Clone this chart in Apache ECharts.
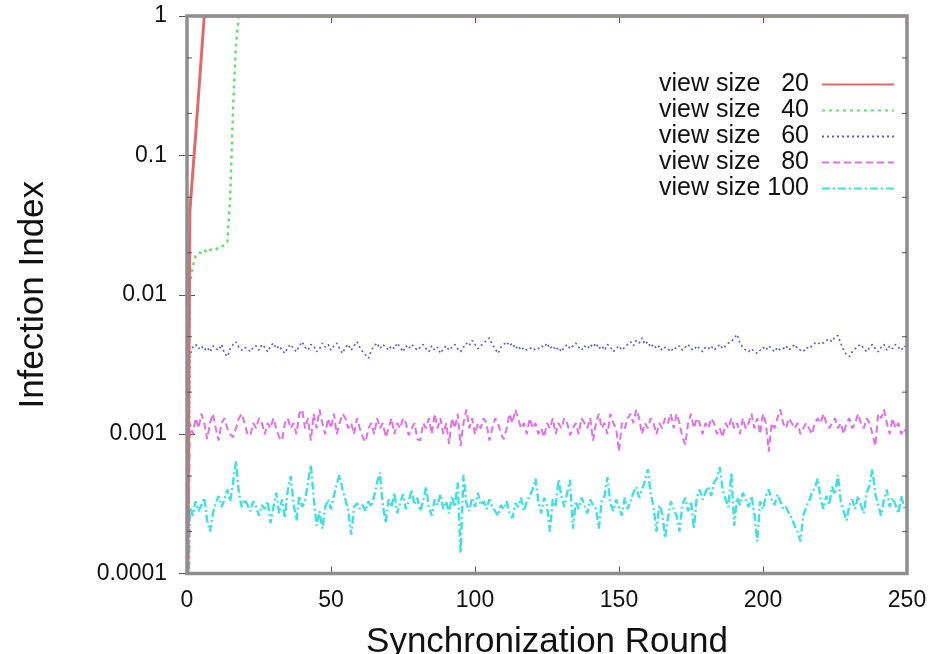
<!DOCTYPE html>
<html><head><meta charset="utf-8">
<script src="https://cdn.jsdelivr.net/npm/echarts@6/dist/echarts.min.js"></script>
<style>html,body{margin:0;padding:0;background:#fff}#c{width:941px;height:654px}</style>
</head><body><div id="c"></div>
<script>
// ---- data (rounds are the array index, 0..250) ----
const xTicks = [0, 50, 100, 150, 200, 250];
const yTickValues = [0.0001, 0.001, 0.01, 0.1, 1];
const yTickLabels = ['0.0001', '0.001', '0.01', '0.1', '1'];
const yMinorTicks = [0.0002, 0.0005, 0.002, 0.005, 0.02, 0.05, 0.2, 0.5];
const seriesNames = ['view size   20', 'view size   40', 'view size   60', 'view size   80', 'view size 100'];

// view size 20 and 40: [round, value] break points (flat at 1 afterwards)
const view20 = [[0, 0.00001], [1, 0.04], [2, 0.075], [3, 0.14], [4, 0.27], [5, 0.52], [6, 1], [250, 1]];
const view40 = [[0, 0.00001], [1, 0.012], [2, 0.016], [3, 0.019], [4, 0.020], [5, 0.020], [6, 0.021], [7, 0.020],
  [8, 0.021], [9, 0.021], [10, 0.021], [11, 0.022], [12, 0.022], [13, 0.023], [14, 0.024], [15, 0.05],
  [16, 0.22], [17, 0.62], [18, 1], [250, 1]];

const view60 = [
  0.00001, 0.0036, 0.0042, 0.0044, 0.0041, 0.0043, 0.0040, 0.0042, 0.0039, 0.0043,
  0.0041, 0.0040, 0.0044, 0.0038, 0.0036, 0.0041, 0.0044, 0.0046, 0.0042, 0.0040,
  0.0042, 0.0041, 0.0039, 0.0042, 0.0043, 0.0040, 0.0044, 0.0042, 0.0039, 0.0043,
  0.0045, 0.0041, 0.0043, 0.0040, 0.0038, 0.0042, 0.0044, 0.0041, 0.0039, 0.0043,
  0.0046, 0.0042, 0.0040, 0.0044, 0.0043, 0.0039, 0.0041, 0.0045, 0.0042, 0.0044,
  0.0040, 0.0043, 0.0045, 0.0041, 0.0038, 0.0042, 0.0044, 0.0040, 0.0043, 0.0046,
  0.0042, 0.0039, 0.0037, 0.0035, 0.0040, 0.0043, 0.0045, 0.0041, 0.0044, 0.0042,
  0.0040, 0.0043, 0.0041, 0.0045, 0.0042, 0.0039, 0.0043, 0.0041, 0.0044, 0.0042,
  0.0040, 0.0042, 0.0044, 0.0041, 0.0039, 0.0043, 0.0040, 0.0042, 0.0038, 0.0041,
  0.0043, 0.0040, 0.0042, 0.0044, 0.0041, 0.0039, 0.0042, 0.0045, 0.0043, 0.0047,
  0.0044, 0.0041, 0.0043, 0.0045, 0.0047, 0.0049, 0.0044, 0.0041, 0.0038, 0.0042,
  0.0044, 0.0046, 0.0043, 0.0045, 0.0041, 0.0043, 0.0040, 0.0042, 0.0040, 0.0041,
  0.0042, 0.0040, 0.0041, 0.0043, 0.0042, 0.0045, 0.0041, 0.0043, 0.0040, 0.0042,
  0.0039, 0.0042, 0.0044, 0.0041, 0.0043, 0.0045, 0.0042, 0.0040, 0.0043, 0.0041,
  0.0044, 0.0042, 0.0045, 0.0041, 0.0043, 0.0040, 0.0044, 0.0042, 0.0039, 0.0041,
  0.0043, 0.0040, 0.0042, 0.0044, 0.0046, 0.0043, 0.0047, 0.0045, 0.0049, 0.0044,
  0.0046, 0.0042, 0.0044, 0.0041, 0.0043, 0.0040, 0.0042, 0.0041, 0.0039, 0.0042,
  0.0041, 0.0043, 0.0040, 0.0042, 0.0044, 0.0041, 0.0040, 0.0043, 0.0041, 0.0039,
  0.0042, 0.0041, 0.0043, 0.0040, 0.0042, 0.0044, 0.0041, 0.0043, 0.0045, 0.0046,
  0.0049, 0.0052, 0.0045, 0.0042, 0.0040, 0.0039, 0.0041, 0.0039, 0.0038, 0.0040,
  0.0042, 0.0040, 0.0043, 0.0041, 0.0039, 0.0042, 0.0040, 0.0041, 0.0043, 0.0040,
  0.0042, 0.0044, 0.0041, 0.0040, 0.0039, 0.0042, 0.0041, 0.0043, 0.0045, 0.0044,
  0.0046, 0.0045, 0.0047, 0.0048, 0.0046, 0.0050, 0.0051, 0.0045, 0.0040, 0.0037,
  0.0036, 0.0039, 0.0041, 0.0043, 0.0044, 0.0041, 0.0039, 0.0042, 0.0044, 0.0041,
  0.0039, 0.0042, 0.0044, 0.0040, 0.0043, 0.0041, 0.0044, 0.0042, 0.0040, 0.0043,
  0.0042
];

const view80 = [
  0.00001, 0.0012, 0.0010, 0.0013, 0.0011, 0.0014, 0.0012, 0.00092, 0.0012, 0.0014,
  0.0011, 0.00090, 0.0012, 0.0013, 0.0011, 0.0010, 0.00095, 0.0011, 0.0013, 0.0014,
  0.0012, 0.0010, 0.00098, 0.0012, 0.0011, 0.0013, 0.0012, 0.0010, 0.0012, 0.0011,
  0.0013, 0.0011, 0.00095, 0.00090, 0.0012, 0.0013, 0.0011, 0.0012, 0.0010, 0.0014,
  0.0015, 0.0011, 0.0013, 0.00090, 0.0014, 0.0011, 0.0015, 0.0012, 0.0010, 0.0013,
  0.0011, 0.0014, 0.0010, 0.0012, 0.0014, 0.0013, 0.0011, 0.0012, 0.0010, 0.0013,
  0.0011, 0.00095, 0.00088, 0.0011, 0.0012, 0.0010, 0.0013, 0.0011, 0.0012, 0.00095,
  0.0011, 0.0013, 0.0010, 0.0012, 0.0011, 0.0013, 0.0012, 0.00098, 0.0011, 0.0012,
  0.00092, 0.00090, 0.0012, 0.0011, 0.0013, 0.0010, 0.0014, 0.0011, 0.0013, 0.0010,
  0.0012, 0.00085, 0.0013, 0.0011, 0.0014, 0.00082, 0.0012, 0.0015, 0.0011, 0.0013,
  0.0010, 0.0012, 0.0011, 0.0013, 0.0012, 0.00090, 0.0011, 0.0013, 0.0012, 0.0010,
  0.00092, 0.0011, 0.0014, 0.0012, 0.0015, 0.0013, 0.0011, 0.0012, 0.0010, 0.0013,
  0.0011, 0.0012, 0.0010, 0.0011, 0.00095, 0.0012, 0.0011, 0.0013, 0.0010, 0.0012,
  0.0011, 0.0013, 0.0012, 0.00098, 0.0011, 0.0012, 0.0010, 0.0013, 0.0012, 0.0011,
  0.0013, 0.00090, 0.0012, 0.0014, 0.0011, 0.0012, 0.0010, 0.0014, 0.0012, 0.0011,
  0.00075, 0.0012, 0.0011, 0.0013, 0.0014, 0.0012, 0.0015, 0.0013, 0.0010, 0.0012,
  0.0011, 0.0013, 0.0012, 0.0010, 0.0012, 0.0011, 0.0013, 0.0012, 0.0014, 0.0011,
  0.0014, 0.0012, 0.00095, 0.00084, 0.0012, 0.0014, 0.0011, 0.0013, 0.0012, 0.0010,
  0.0012, 0.0011, 0.0013, 0.0012, 0.0010, 0.0011, 0.00095, 0.0012, 0.0011, 0.0013,
  0.0011, 0.0012, 0.0010, 0.0013, 0.0011, 0.0012, 0.0014, 0.0011, 0.0013, 0.0010,
  0.0014, 0.0012, 0.00075, 0.0012, 0.0011, 0.0013, 0.0015, 0.0012, 0.0011, 0.0013,
  0.0012, 0.0011, 0.0012, 0.0010, 0.0011, 0.0012, 0.0011, 0.0010, 0.0012, 0.0013,
  0.0012, 0.0014, 0.0012, 0.0011, 0.0012, 0.0013, 0.0011, 0.0012, 0.0010, 0.0012,
  0.0013, 0.0011, 0.0012, 0.0014, 0.0012, 0.0011, 0.0013, 0.0012, 0.0010, 0.00082,
  0.0014, 0.0013, 0.0015, 0.0012, 0.0010, 0.0013, 0.0011, 0.0012, 0.0010, 0.0011,
  0.0010
];

const view100 = [
  0.00001, 0.00030, 0.00026, 0.00033, 0.00028, 0.00031, 0.00035, 0.00024, 0.00020, 0.00027,
  0.00032, 0.00036, 0.00030, 0.00034, 0.00040, 0.00033, 0.00045, 0.00064, 0.00038, 0.00030,
  0.00034, 0.00031, 0.00028, 0.00033, 0.00030, 0.00026, 0.00031, 0.00029, 0.00033, 0.00023,
  0.00030, 0.00038, 0.00027, 0.00034, 0.00025, 0.00040, 0.00050, 0.00032, 0.00024, 0.00036,
  0.00030, 0.00033, 0.00045, 0.00060, 0.00035, 0.00022, 0.00028, 0.00021, 0.00030, 0.00034,
  0.00029, 0.00036, 0.00044, 0.00051, 0.00040, 0.00034, 0.00028, 0.00019, 0.00030, 0.00032,
  0.00029, 0.00031, 0.00028, 0.00033, 0.00030, 0.00036, 0.00045, 0.00053, 0.00031, 0.00023,
  0.00034, 0.00030, 0.00038, 0.00027, 0.00032, 0.00037, 0.00029, 0.00033, 0.00040, 0.00031,
  0.00035, 0.00028, 0.00033, 0.00042, 0.00030, 0.00026, 0.00034, 0.00031, 0.00037, 0.00029,
  0.00033, 0.00027, 0.00036, 0.00030, 0.00045, 0.00014, 0.00051, 0.00032, 0.00028, 0.00035,
  0.00030, 0.00038, 0.00031, 0.00033, 0.00029, 0.00034, 0.00030, 0.00028, 0.00026, 0.00031,
  0.00029, 0.00033, 0.00027, 0.00025, 0.00032, 0.00030, 0.00035, 0.00028, 0.00033, 0.00036,
  0.00040, 0.00048, 0.00033, 0.00027, 0.00035, 0.00031, 0.00020, 0.00034, 0.00030, 0.00047,
  0.00036, 0.00030, 0.00038, 0.00047, 0.00021, 0.00033, 0.00029, 0.00035, 0.00031, 0.00027,
  0.00034, 0.00031, 0.00029, 0.00021, 0.00033, 0.00036, 0.00049, 0.00032, 0.00028, 0.00034,
  0.00030, 0.00026, 0.00035, 0.00029, 0.00033, 0.00038, 0.00042, 0.00035, 0.00040, 0.00046,
  0.00056, 0.00038, 0.00030, 0.00020, 0.00031, 0.00027, 0.00018, 0.00025, 0.00033, 0.00029,
  0.00026, 0.00020, 0.00031, 0.00035, 0.00028, 0.00033, 0.00021, 0.00035, 0.00040, 0.00034,
  0.00038, 0.00042, 0.00036, 0.00045, 0.00048, 0.00058, 0.00040, 0.00034, 0.00030, 0.00053,
  0.00022, 0.00035, 0.00031, 0.00038, 0.00034, 0.00030, 0.00036, 0.00027, 0.00017, 0.00033,
  0.00029, 0.00036, 0.00040, 0.00034, 0.00031, 0.00037, 0.00033, 0.00029, 0.00030, 0.00027,
  0.00025, 0.00022, 0.00020, 0.00017, 0.00026, 0.00030, 0.00033, 0.00038, 0.00041, 0.00048,
  0.00034, 0.00029, 0.00036, 0.00031, 0.00042, 0.00037, 0.00051, 0.00033, 0.00028, 0.00024,
  0.00031, 0.00034, 0.00029, 0.00036, 0.00031, 0.00027, 0.00038, 0.00043, 0.00056, 0.00037,
  0.00031, 0.00026, 0.00034, 0.00040, 0.00030, 0.00035, 0.00031, 0.00027, 0.00036, 0.00030,
  0.00029
];

// ---- chart ----
const FONT = '"Liberation Sans", Arial, Helvetica, sans-serif';
const colors = ['#e06a6a', '#6fdc6f', '#5a5ad8', '#e070e6', '#3fe0e0'];
const indexed = arr => arr.map((v, i) => [i, v]);

const chart = echarts.init(document.getElementById('c'), null, { renderer: 'canvas' });

const lineSeries = (name, data, color, width, type, z) => ({
  name, type: 'line', data, showSymbol: false, symbol: 'none', clip: true, z,
  xAxisIndex: 0, yAxisIndex: 0, animation: false,
  lineStyle: { color, width, type }, itemStyle: { color }
});

chart.setOption({
  animation: false,
  backgroundColor: '#ffffff',
  textStyle: { fontFamily: FONT },
  grid: { left: 187, right: 34, top: 16, bottom: 80.5, outerBoundsMode: 'none', containLabel: false, show: true, borderColor: '#8e8e8e', borderWidth: 3.5, backgroundColor: 'transparent', z: 10 },
  legend: {
    orient: 'vertical', right: 41, top: 67, align: 'right',
    itemWidth: 72, itemHeight: 12, itemGap: 1,
    itemStyle: { opacity: 0 },
    textStyle: { fontFamily: FONT, fontSize: 25, color: '#111', lineHeight: 25, padding: [0, 8, 0, 0] },
    data: seriesNames
  },
  xAxis: [
    {
      type: 'value', min: 0, max: 250, interval: 50,
      name: 'Synchronization Round', nameLocation: 'middle', nameGap: 51,
      nameTextStyle: { fontFamily: FONT, fontSize: 35, color: '#111', verticalAlign: 'top' },
      axisLine: { show: false },
      axisTick: { show: true, inside: true, length: 7, lineStyle: { color: '#555', width: 1 } },
      axisLabel: { fontFamily: FONT, fontSize: 23, color: '#111', margin: 16, customValues: xTicks },
      splitLine: { show: false }
    },
    {
      type: 'value', min: 0, max: 250, interval: 50, position: 'top',
      axisLine: { show: false },
      axisTick: { show: true, inside: true, length: 7, lineStyle: { color: '#555', width: 1 } },
      axisLabel: { show: false }, splitLine: { show: false }
    }
  ],
  yAxis: [
    {
      type: 'log', logBase: 10, min: 0.0001, max: 1,
      name: 'Infection Index', nameLocation: 'middle', nameGap: 136,
      nameTextStyle: { fontFamily: FONT, fontSize: 35, color: '#111' },
      axisLine: { show: false },
      axisTick: { show: true, inside: true, length: 8, lineStyle: { color: '#555', width: 1 } },
      axisLabel: {
        fontFamily: FONT, fontSize: 23, color: '#111', margin: 20,
        formatter: v => { const i = yTickValues.findIndex(t => Math.abs(Math.log10(t) - Math.log10(v)) < 1e-6); return i >= 0 ? yTickLabels[i] : ''; }
      },
      splitLine: { show: false }
    },
    {
      type: 'log', logBase: 10, min: 0.0001, max: 1, position: 'right',
      axisLine: { show: false },
      axisTick: { show: true, inside: true, length: 8, lineStyle: { color: '#555', width: 1 } },
      axisLabel: { show: false }, splitLine: { show: false }
    }
  ],
  series: [
    lineSeries(seriesNames[0], view20, colors[0], 3, 'solid', 6),
    lineSeries(seriesNames[1], view40, colors[1], 2.5, [3, 4], 5),
    lineSeries(seriesNames[2], indexed(view60), colors[2], 1.6, [2, 3], 4),
    lineSeries(seriesNames[3], indexed(view80), colors[3], 2, [7, 4], 3),
    lineSeries(seriesNames[4], indexed(view100), colors[4], 2.4, [8, 3, 2, 3], 2),
    {
      type: 'custom', name: 'minorTicks', silent: true, animation: false, z: 11,
      xAxisIndex: 0, yAxisIndex: 0,
      data: yMinorTicks.map(v => [0, v]),
      renderItem: (params, api) => {
        const v = api.value(1);
        const pl = api.coord([0, v]);
        const pr = api.coord([250, v]);
        const st = { stroke: '#555', lineWidth: 1 };
        return { type: 'group', children: [
          { type: 'line', shape: { x1: pl[0], y1: pl[1], x2: pl[0] + 5, y2: pl[1] }, style: st },
          { type: 'line', shape: { x1: pr[0], y1: pr[1], x2: pr[0] - 5, y2: pr[1] }, style: st }
        ] };
      }
    }
  ]
});
</script>
</body></html>
